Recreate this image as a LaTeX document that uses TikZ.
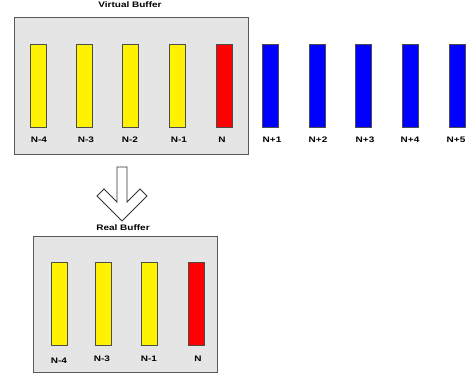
\documentclass[tikz,border=0pt]{standalone}
\usepackage{fontspec}
\setmainfont{Liberation Sans}
\begin{document}
\begin{tikzpicture}[x=1pt,y=-1pt,
  bufbox/.style={draw=black!65, line width=0.9pt, fill=black!10, inner sep=0pt},
  slot/.style={draw=black!70, line width=0.7pt, inner sep=0pt,
    minimum width=16pt, minimum height=83pt},
  old/.style={slot, fill=yellow},
  cur/.style={slot, fill=red},
  future/.style={slot, fill=blue},
  lbl/.style={inner sep=0pt, font=\fontsize{8}{9}\selectfont\bfseries},
  arrowshape/.style={draw=black!80, line width=0.8pt, fill=white, line join=miter}
]
\newcommand\wide[1]{\scalebox{1.25}[1]{#1}}
\useasboundingbox (0,0) rectangle (468,377);

% virtual buffer frame
\node[bufbox, minimum width=234pt, minimum height=137pt] (vbox) at (131,85.5) {};
\node[lbl] (vtitle) at (130,4.5) {\wide{Virtual Buffer}};

% slots in the virtual buffer
\node[old] (v4) at (38,85.5) {};
\node[old] (v3) at (84,85.5) {};
\node[old] (v2) at (130.5,85.5) {};
\node[old] (v1) at (177,85.5) {};
\node[cur] (v0) at (224,85.5) {};
\node[lbl] (lv4) at (39,140) {\wide{N-4}};
\node[lbl] (lv3) at (86,140) {\wide{N-3}};
\node[lbl] (lv2) at (130,140) {\wide{N-2}};
\node[lbl] (lv1) at (179,140) {\wide{N-1}};
\node[lbl] (lv0) at (222,140) {\wide{N}};

% slots beyond the window
\node[future] (f1) at (270,86) {};
\node[future] (f2) at (317,86) {};
\node[future] (f3) at (363.5,86) {};
\node[future] (f4) at (410,86) {};
\node[future] (f5) at (457,86) {};
\node[lbl] (lf1) at (272,139.5) {\wide{N+1}};
\node[lbl] (lf2) at (318,139.5) {\wide{N+2}};
\node[lbl] (lf3) at (365,139.5) {\wide{N+3}};
\node[lbl] (lf4) at (410,139.5) {\wide{N+4}};
\node[lbl] (lf5) at (456,139.5) {\wide{N+5}};

% hollow down arrow
\draw[arrowshape] (117,167) -- (117,202) -- (104,189) -- (97,196) -- (122,221)
  -- (147,196) -- (140,189) -- (127,202) -- (127,167) -- cycle;

% real buffer frame
\node[bufbox, minimum width=184pt, minimum height=136pt] (rbox) at (125,304) {};
\node[lbl] (rtitle) at (123,228) {\wide{Real Buffer}};

\node[old] (r4) at (59.5,304) {};
\node[old] (r3) at (103,304) {};
\node[old] (r1) at (149.5,304) {};
\node[cur] (r0) at (196.5,304) {};
\node[lbl] (lr4) at (59,361) {\wide{N-4}};
\node[lbl] (lr3) at (102,359) {\wide{N-3}};
\node[lbl] (lr1) at (149,359) {\wide{N-1}};
\node[lbl] (lr0) at (198,359) {\wide{N}};
\end{tikzpicture}
\end{document}
